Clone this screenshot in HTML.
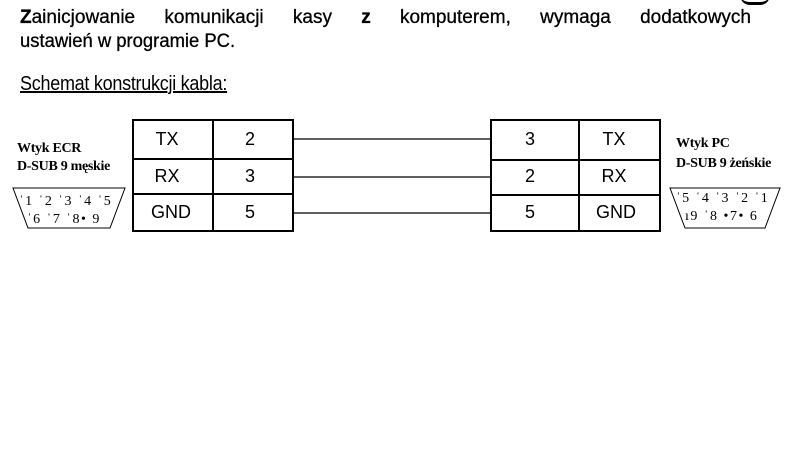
<!DOCTYPE html>
<html><head><meta charset="utf-8"><style>
body{margin:0;width:794px;height:474px;background:#fff;position:relative;overflow:hidden;font-family:"Liberation Sans",sans-serif;color:#000}
.abs{position:absolute;white-space:nowrap}
.ser{font-family:"Liberation Serif",serif;font-weight:bold;font-size:14px;letter-spacing:-0.3px}
.h{font-size:19px;-webkit-text-stroke:0.3px #000}
</style></head><body>
<div class="abs" style="left:740px;top:-6px;width:30px;height:8px;border-bottom:3px solid #000;border-radius:0 0 10px 10px"></div>
<div class="abs h" style="left:20px;top:7px;display:flex;justify-content:space-between;width:731px"><span><b>Z</b>ainicjowanie</span><span>komunikacji</span><span>kasy</span><span><b>z</b></span><span>komputerem,</span><span>wymaga</span><span>dodatkowych</span></div>
<div class="abs h" style="left:20px;top:31px;transform:scaleX(0.97);transform-origin:left">ustawień w programie PC.</div>
<div class="abs" style="left:20px;top:73px;font-size:20px;text-decoration:underline;transform:scaleX(0.9);transform-origin:left;letter-spacing:-0.3px">Schemat konstrukcji kabla:</div>
<div class="abs ser" style="left:17px;top:141px">Wtyk ECR</div>
<div class="abs ser" style="left:17px;top:159px">D-SUB 9 męskie</div>
<div class="abs ser" style="left:676px;top:136px">Wtyk PC</div>
<div class="abs ser" style="left:676px;top:156px">D-SUB 9 żeńskie</div>
<svg class="abs" style="left:0;top:0" width="794" height="474">
<g fill="none" stroke="#000">
<rect x="133" y="120" width="160" height="111" stroke-width="2"/>
<line x1="213" y1="120" x2="213" y2="231" stroke-width="2"/>
<line x1="133" y1="159" x2="293" y2="159" stroke-width="2"/>
<line x1="133" y1="194" x2="293" y2="194" stroke-width="2"/>
<rect x="491" y="120" width="169" height="111" stroke-width="2"/>
<line x1="579" y1="120" x2="579" y2="231" stroke-width="2"/>
<line x1="491" y1="160" x2="660" y2="160" stroke-width="2"/>
<line x1="491" y1="195" x2="660" y2="195" stroke-width="2"/>
<line x1="293" y1="139" x2="491" y2="139" stroke-width="1.2"/>
<line x1="293" y1="177" x2="491" y2="177" stroke-width="1.2"/>
<line x1="293" y1="213" x2="491" y2="213" stroke-width="1.2"/>
<path d="M13 188 L125 188 L110 228 L28 228 Z" stroke-width="1"/>
<path d="M670 188 L780 188 L765 228 L685 228 Z" stroke-width="1"/>
</g>
<g font-family="Liberation Sans" font-size="18" text-anchor="middle">
<text x="167" y="145">TX</text><text x="250" y="145">2</text>
<text x="167" y="182">RX</text><text x="250" y="182">3</text>
<text x="171" y="218">GND</text><text x="250" y="218">5</text>
<text x="530" y="145">3</text><text x="614" y="145">TX</text>
<text x="530" y="182">2</text><text x="614" y="182">RX</text>
<text x="530" y="218">5</text><text x="616" y="218">GND</text>
</g>
<g font-family="Liberation Serif" font-size="14" letter-spacing="1.5">
<text x="19" y="205">ˈ1 ˈ2  ˈ3  ˈ4 ˈ5</text>
<text x="27" y="223">ˈ6 ˈ7  ˈ8• 9</text>
<text x="676" y="202">ˈ5 ˈ4  ˈ3  ˈ2 ˈ1</text>
<text x="685" y="220">ı9 ˈ8  •7• 6</text>
</g>
</svg>
</body></html>
